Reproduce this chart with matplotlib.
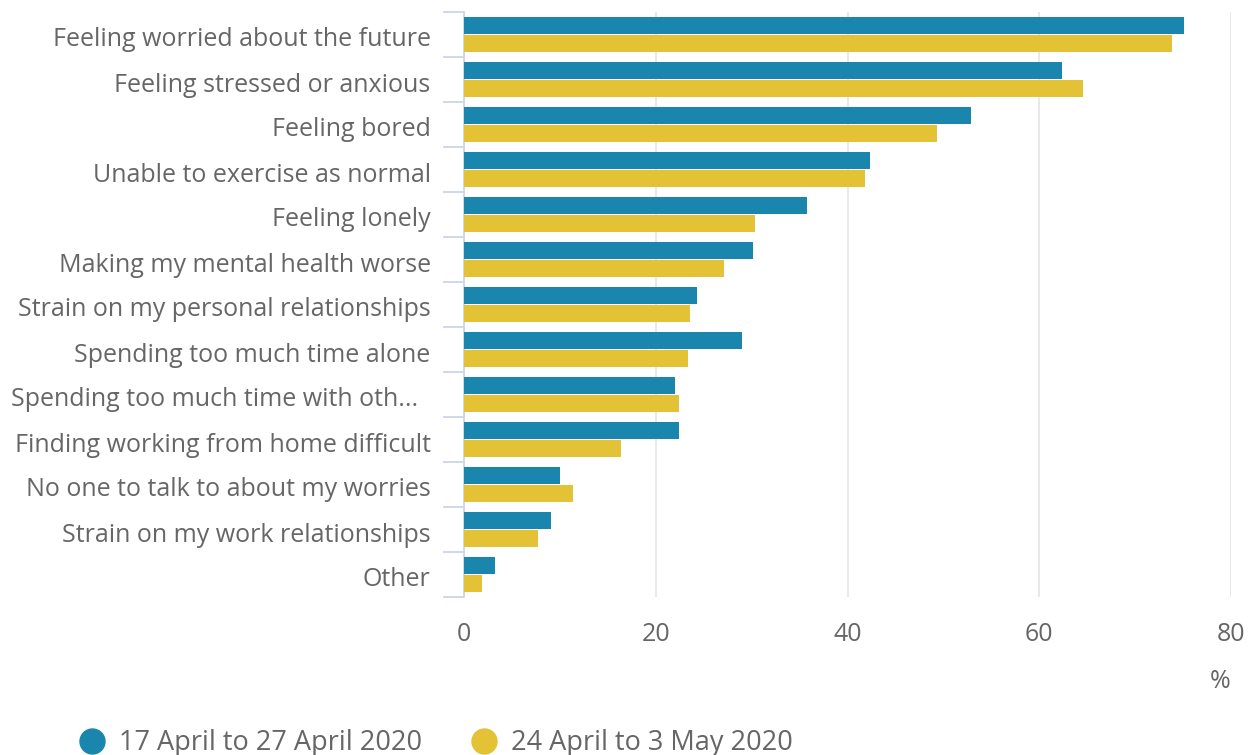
import numpy as np
import matplotlib.pyplot as plt
import matplotlib.transforms as mtransforms
from matplotlib.lines import Line2D

categories = [
    "Feeling worried about the future",
    "Feeling stressed or anxious",
    "Feeling bored",
    "Unable to exercise as normal",
    "Feeling lonely",
    "Making my mental health worse",
    "Strain on my personal relationships",
    "Spending too much time alone",
    "Spending too much time with oth...  ",
    "Finding working from home difficult",
    "No one to talk to about my worries",
    "Strain on my work relationships",
    "Other",
]
april = [75.1, 62.4, 52.9, 42.3, 35.8, 30.1, 24.3, 29.0, 22.0, 22.4, 10.0, 9.1, 3.2]
may = [73.8, 64.6, 49.3, 41.8, 30.4, 27.1, 23.6, 23.4, 22.4, 16.4, 11.4, 7.7, 1.9]
series_names = ["17 April to 27 April 2020", "24 April to 3 May 2020"]
xticks = [0, 20, 40, 60, 80]

blue = "#1a86ae"
yellow = "#e3c236"
text_col = "#666666"
axis_col = "#ccd6eb"
grid_col = "#e6e6e6"

plt.rcParams['font.family'] = ['Open Sans', 'DejaVu Sans']

fig = plt.figure(figsize=(12.52, 7.55), dpi=100)
ax = fig.add_axes([464 / 1252, 1 - 597 / 755, (1231 - 464) / 1252, (597 - 12) / 755])

n = len(categories)
y = np.arange(n)
h = 0.385
ax.barh(y - h / 2 - 0.005, april, height=h, color=blue, zorder=3)
ax.barh(y + h / 2 + 0.005, may, height=h, color=yellow, zorder=3)

ax.set_ylim(n - 0.5, -0.5)
ax.set_xlim(0, 80)

ax.set_yticks(y)
ax.set_yticklabels(categories)
ax.set_yticks(np.arange(n + 1) - 0.5, minor=True)
ax.tick_params(axis='y', which='major', length=0, pad=24, labelsize=18, labelcolor=text_col)
ax.tick_params(axis='y', which='minor', length=15, width=1.3, color=axis_col)

# nudge category labels down a little
shift = mtransforms.ScaledTranslation(0, -2.5 / 100, fig.dpi_scale_trans)
for lab in ax.get_yticklabels():
    lab.set_transform(lab.get_transform() + shift)

ax.set_xticks(xticks)
ax.tick_params(axis='x', length=0, pad=18, labelsize=18, labelcolor=text_col)
ax.grid(axis='x', color=grid_col, linewidth=1.3, zorder=0)

for s in ['top', 'right', 'bottom']:
    ax.spines[s].set_visible(False)
ax.spines['left'].set_color(axis_col)
ax.spines['left'].set_linewidth(1.3)

fig.text(1220 / 1252, 1 - 681 / 755, "%", ha='center', va='center', fontsize=18, color=text_col)

# legend with round markers
handles = [Line2D([], [], marker='o', linestyle='', markersize=18, color=c) for c in (blue, yellow)]
fig.legend(handles, series_names, loc='lower left', bbox_to_anchor=(69 / 1252, -0.017), ncol=2,
           frameon=False, fontsize=19.5, labelcolor=text_col, handlelength=0.9,
           handletextpad=0.55, columnspacing=1.85, borderaxespad=0)

fig.savefig("out.png", dpi=100)
